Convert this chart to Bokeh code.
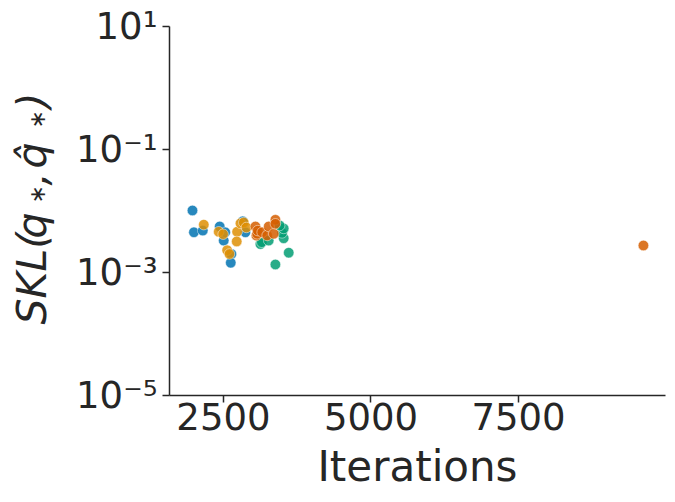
import math
from bokeh.plotting import figure
from bokeh.layouts import row
from bokeh.models import Range1d, FixedTicker
from bokeh.core.properties import value
from bokeh.embed import file_html
from bokeh.resources import INLINE

# ---- data ----
blue_x = [1975, 2000, 2150, 2437, 2505, 2530, 2635, 2624, 2827, 2872]
blue_y = [0.0102, 0.0045, 0.0048, 0.0056, 0.0033, 0.0045, 0.0020, 0.00144, 0.0068, 0.0045]

orange_x = [2167, 2420, 2495, 2563, 2602, 2732, 2725, 2788, 2844, 2889]
orange_y = [0.0060, 0.0046, 0.0042, 0.0023, 0.0020, 0.0046, 0.0032, 0.0063, 0.0065, 0.0054]

green_x = [3126, 3150, 3267, 3380, 3606, 3521, 3494, 3521, 3453]
green_y = [0.0029, 0.0031, 0.0033, 0.00135, 0.0021, 0.0036, 0.0044, 0.0052, 0.0058]

red_x = [3042, 3059, 3071, 3081, 3155, 3240, 3267, 3352, 3380, 3380, 9616]
red_y = [0.0056, 0.0040, 0.00426, 0.0048, 0.0045, 0.0040, 0.0056, 0.00426, 0.0072, 0.0062, 0.00275]

y_ticks = [1e-5, 1e-3, 1e-1, 1e1]
y_tick_labels = {1e-5: "10⁻⁵", 1e-3: "10⁻³", 1e-1: "10⁻¹", 1e1: "10¹"}
x_ticks = [2500, 5000, 7500]

y_label_parts = ["SKL(", "q", "∗", ",", "q̂", "∗", ")"]

series = [
    (blue_x, blue_y, "#0173b2"),
    (orange_x, orange_y, "#de8f05"),
    (green_x, green_y, "#029e73"),
    (red_x, red_y, "#d55e00"),
]

H = 494
LW = 62  # width of the strip that holds the y-axis label

# ---- strip holding the rotated y-axis label (its frame lines up with the main frame) ----
lab = figure(width=LW, height=H, x_range=Range1d(0, LW), y_range=Range1d(395, 26),
             output_backend="svg", toolbar_location=None,
             min_border_left=0, min_border_right=0, min_border_top=0, min_border_bottom=0)
lab.xaxis.visible = False
lab.yaxis.visible = False
lab.xgrid.visible = False
lab.ygrid.visible = False
lab.outline_line_color = None
lab.border_fill_color = "white"
lab.background_fill_color = "white"

# piece placement: (anchor x, start y, size)
placement = [
    (31, 324, "41px"),
    (31, 238, "41px"),
    (37, 203, "22px"),
    (31, 185, "41px"),
    (31, 168, "41px"),
    (37, 128, "22px"),
    (31, 108, "41px"),
]
for t, (px, py, fs) in zip(y_label_parts, placement):
    lab.text(x=[px], y=[py], text=[t], angle=math.pi / 2,
             text_font=value("DejaVu Sans"), text_font_style="italic",
             text_font_size=value(fs), text_color="#262626",
             text_align="left", text_baseline="alphabetic")

# ---- main plot ----
p = figure(width=667 - LW, height=H, y_axis_type="log",
           x_range=Range1d(1586, 9990), y_range=Range1d(1e-5, 10),
           output_backend="svg", toolbar_location=None,
           min_border_left=169 - LW, min_border_right=2,
           min_border_top=26, min_border_bottom=99)

for xs, ys, c in series:
    p.scatter(xs, ys, size=10.5, fill_color=c, fill_alpha=0.85,
              line_color="white", line_alpha=0.8, line_width=0.6)

p.xgrid.visible = False
p.ygrid.visible = False
p.outline_line_color = None
p.background_fill_color = "white"
p.border_fill_color = "white"

p.yaxis.ticker = FixedTicker(ticks=y_ticks)
p.yaxis.major_label_overrides = y_tick_labels
p.xaxis.ticker = FixedTicker(ticks=x_ticks)

for ax in (p.xaxis, p.yaxis):
    ax.axis_line_color = "#262626"
    ax.axis_line_width = 1.5
    ax.major_tick_line_color = "#262626"
    ax.major_tick_line_width = 1.5
    ax.major_tick_out = 7
    ax.major_tick_in = 0
    ax.minor_tick_out = 0
    ax.minor_tick_in = 0
    ax.major_label_text_font = "DejaVu Sans"
    ax.major_label_text_font_size = "37px"
    ax.major_label_text_color = "#262626"
    ax.axis_label_text_font = "DejaVu Sans"
    ax.axis_label_text_font_size = "42px"
    ax.axis_label_text_color = "#262626"

p.xaxis.axis_label = "Iterations"
p.xaxis.axis_label_text_font_style = "normal"
p.xaxis.major_label_standoff = 0
p.xaxis.axis_label_standoff = 9

p.yaxis.major_label_standoff = 5

layout = row(lab, p, spacing=0)
open("out.html", "w").write(file_html(layout, INLINE))
